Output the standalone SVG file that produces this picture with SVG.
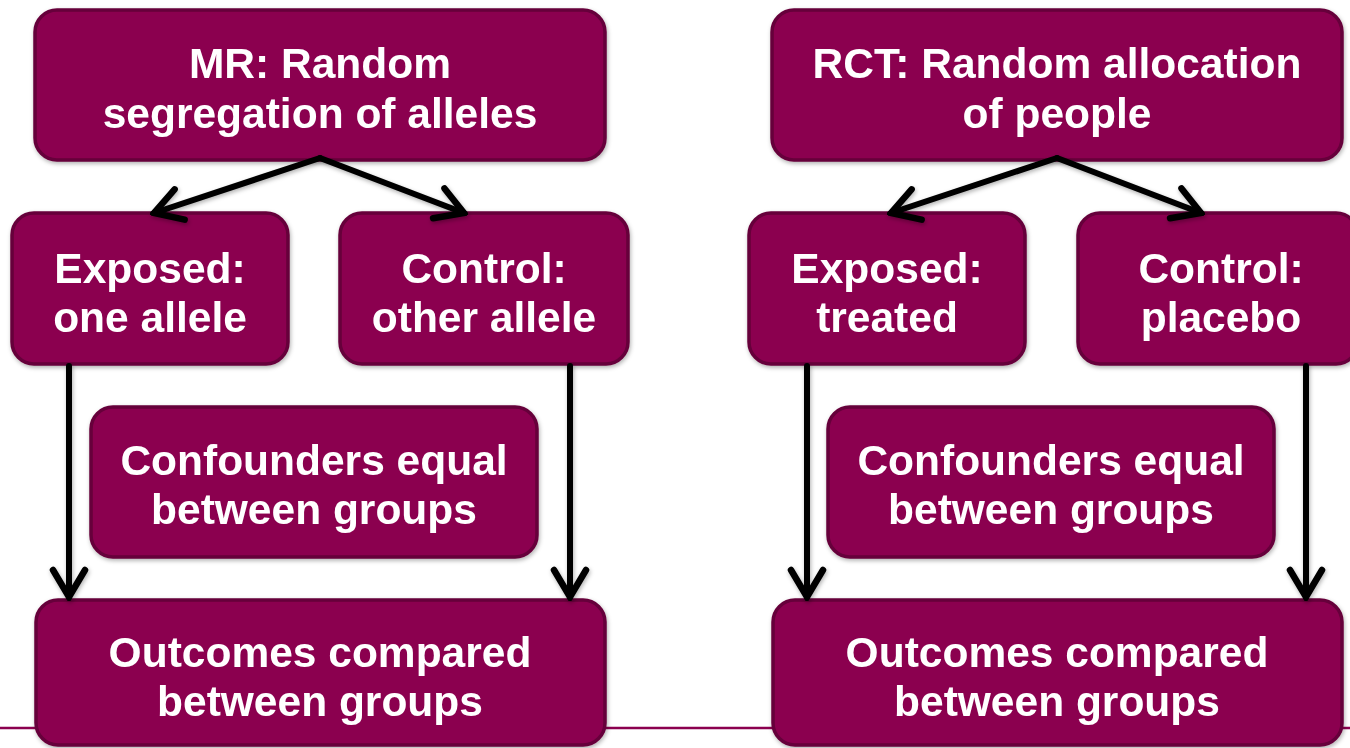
<svg xmlns="http://www.w3.org/2000/svg" width="1350" height="748" viewBox="0 0 1350 748">
<style>
.box{fill:#8B004F;stroke:#66003A;stroke-width:3.5}
.t{font-family:"Liberation Sans",Arial,sans-serif;font-weight:bold;font-size:42.5px;fill:#FFFFFF;text-anchor:middle}
.c{fill:none;stroke:#000;stroke-width:6;stroke-linecap:round;stroke-linejoin:round}
</style>
<defs>
<filter id="sh" x="-20%" y="-20%" width="140%" height="140%">
<feDropShadow dx="1" dy="2" stdDeviation="2" flood-color="#000" flood-opacity="0.3"/>
</filter>
<marker id="ah" viewBox="0 0 40 40" refX="36" refY="20" markerWidth="40" markerHeight="40" markerUnits="userSpaceOnUse" orient="auto">
<path d="M9,4 L36,20 L9,36" fill="none" stroke="#000" stroke-width="6.5" stroke-linecap="round" stroke-linejoin="miter"/>
</marker>
</defs>
<line x1="0" y1="728" x2="1350" y2="728" stroke="#8B004F" stroke-width="2.5"/>
<g id="mr-top" filter="url(#sh)"><rect class="box" x="35" y="10" width="570" height="150" rx="22"/><text class="t" x="320" y="78">MR: Random</text><text class="t" x="320" y="128">segregation of alleles</text></g>
<g id="mr-exposed" filter="url(#sh)"><rect class="box" x="12" y="213" width="276" height="151" rx="22"/><text class="t" x="150" y="283">Exposed:</text><text class="t" x="150" y="332">one allele</text></g>
<g id="mr-control" filter="url(#sh)"><rect class="box" x="340" y="213" width="288" height="151" rx="22"/><text class="t" x="484" y="283">Control:</text><text class="t" x="484" y="332">other allele</text></g>
<g id="mr-confounders" filter="url(#sh)"><rect class="box" x="91" y="407" width="446" height="150" rx="22"/><text class="t" x="314" y="475">Confounders equal</text><text class="t" x="314" y="524">between groups</text></g>
<g id="mr-outcomes" filter="url(#sh)"><rect class="box" x="36" y="600" width="569" height="145" rx="22"/><text class="t" x="320" y="667">Outcomes compared</text><text class="t" x="320" y="716">between groups</text></g>
<g id="rct-top" filter="url(#sh)"><rect class="box" x="772" y="10" width="570" height="150" rx="22"/><text class="t" x="1057" y="78">RCT: Random allocation</text><text class="t" x="1057" y="128">of people</text></g>
<g id="rct-exposed" filter="url(#sh)"><rect class="box" x="749" y="213" width="276" height="151" rx="22"/><text class="t" x="887" y="283">Exposed:</text><text class="t" x="887" y="332">treated</text></g>
<g id="rct-control" filter="url(#sh)"><rect class="box" x="1078" y="213" width="280" height="151" rx="22"/><text class="t" x="1221" y="283">Control:</text><text class="t" x="1221" y="332">placebo</text></g>
<g id="rct-confounders" filter="url(#sh)"><rect class="box" x="828" y="407" width="446" height="150" rx="22"/><text class="t" x="1051" y="475">Confounders equal</text><text class="t" x="1051" y="524">between groups</text></g>
<g id="rct-outcomes" filter="url(#sh)"><rect class="box" x="773" y="600" width="569" height="145" rx="22"/><text class="t" x="1057" y="667">Outcomes compared</text><text class="t" x="1057" y="716">between groups</text></g>
<g id="connectors" filter="url(#sh)">
<path class="c" d="M320,158 L154,213" marker-end="url(#ah)"/>
<path class="c" d="M320,158 L464,213" marker-end="url(#ah)"/>
<path class="c" d="M1057,158 L891,213" marker-end="url(#ah)"/>
<path class="c" d="M1057,158 L1201,213" marker-end="url(#ah)"/>
<path class="c" d="M69,366 L69,597" marker-end="url(#ah)"/>
<path class="c" d="M570,366 L570,597" marker-end="url(#ah)"/>
<path class="c" d="M807,366 L807,597" marker-end="url(#ah)"/>
<path class="c" d="M1306,366 L1306,597" marker-end="url(#ah)"/>
</g>
</svg>
